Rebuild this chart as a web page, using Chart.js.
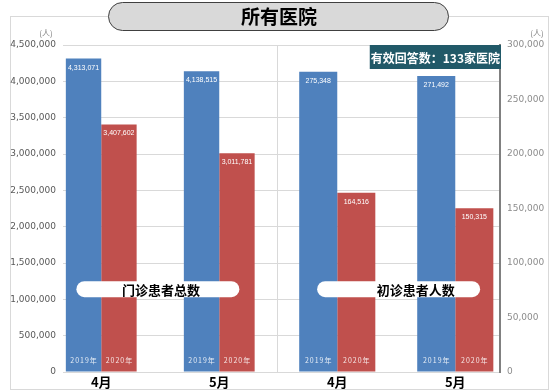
<!DOCTYPE html>
<html lang="zh-cn">
<head>
  <meta charset="UTF-8" />
  <title>所有医院</title>
  <script src="https://cdn.jsdelivr.net/npm/chart.js"></script>
  <style>
    body { margin: 0; background: #fff; }
    canvas { display: block; }
  </style>
</head>
<body>
  <canvas id="chart" width="558" height="392"></canvas>

  <script>
    // data
    const months = ['4月', '5月', '4月', '5月'];
    const seriesNames = ['2019年', '2020年'];
    const outpatient2019 = [4313071, 4138515, null, null];
    const outpatient2020 = [3407602, 3011781, null, null];
    const firstVisit2019 = [null, null, 275348, 271492];
    const firstVisit2020 = [null, null, 164516, 150315];
    const leftTicks = { max: 4500000, step: 500000 };
    const rightTicks = { max: 300000, step: 50000 };
    const title = '所有医院';
    const unitLabel = '(人)';
    const responseNote = '有效回答数：133家医院';
    const groupLabels = [
      { text: '门诊患者总数', x: 0.48, y: 1140000, axis: 'yL', shift: 3 },
      { text: '初诊患者人数', x: 2.52, y: 1140000, axis: 'yL', shift: 17 }
    ];

    const BLUE = '#4f81bd';
    const RED = '#c0504d';
    const NUM_FONT = '"DejaVu Sans", Verdana, sans-serif';
    const LABEL_FONT = '"Liberation Sans", Arial, sans-serif';
    const CJK_FONT = '"Noto Sans CJK SC", "Noto Sans", sans-serif';

    const roundRect = (ctx, x, y, w, h, r) => {
      ctx.beginPath();
      ctx.roundRect(x, y, w, h, r);
    };

    const decor = {
      id: 'decor',
      beforeDraw(chart) {
        const { ctx } = chart;
        ctx.save();
        ctx.strokeStyle = '#d9d9d9';
        ctx.lineWidth = 1;
        ctx.strokeRect(10.5, 16.5, 538, 373);
        ctx.restore();
      },
      afterDatasetsDraw(chart) {
        const { ctx, chartArea, scales } = chart;
        ctx.save();

        // divider between the two halves, midway between the bar groups
        const lastLeft = chart.getDatasetMeta(1).data[1];
        const firstRight = chart.getDatasetMeta(2).data[2];
        const midX = Math.round((lastLeft.x + lastLeft.width / 2 + firstRight.x - firstRight.width / 2) / 2) + 0.5;
        ctx.strokeStyle = '#d9d9d9';
        ctx.lineWidth = 1;
        ctx.beginPath();
        ctx.moveTo(midX, chartArea.top);
        ctx.lineTo(midX, chartArea.bottom);
        ctx.stroke();

        // value labels at the top and series names at the bottom of each bar
        chart.data.datasets.forEach((ds, di) => {
          chart.getDatasetMeta(di).data.forEach((bar, i) => {
            const v = ds.data[i];
            if (v == null) return;
            ctx.fillStyle = '#ffffff';
            ctx.textAlign = 'center';
            ctx.textBaseline = 'middle';
            ctx.font = '7px ' + LABEL_FONT;
            ctx.letterSpacing = '0px';
            ctx.fillText(v.toLocaleString('en-US'), bar.x, bar.y + 9);
            ctx.font = '7px ' + CJK_FONT;
            ctx.letterSpacing = '1px';
            ctx.fillStyle = 'rgba(255,255,255,0.85)';
            ctx.fillText(seriesNames[di % 2], bar.x + 0.5, chartArea.bottom - 12);
          });
        });
        ctx.letterSpacing = '0px';

        // group labels in white pills
        groupLabels.forEach(g => {
          const cx = scales.x.getPixelForValue(g.x);
          const cy = scales[g.axis].getPixelForValue(g.y);
          const w = 163, h = 16;
          ctx.fillStyle = '#ffffff';
          roundRect(ctx, cx - w / 2, cy - h / 2, w, h, h / 2);
          ctx.fill();
          ctx.fillStyle = '#000000';
          ctx.font = 'bold 13px ' + CJK_FONT;
          ctx.textAlign = 'center';
          ctx.textBaseline = 'middle';
          ctx.fillText(g.text, cx + g.shift, cy + 1);
        });

        // response count box at the top right of the plot
        ctx.font = 'bold 12px ' + CJK_FONT;
        const tw = ctx.measureText(responseNote).width;
        const bw = Math.max(tw + 2, 131);
        ctx.fillStyle = '#215968';
        ctx.fillRect(chartArea.right - bw + 1, chartArea.top, bw, 24);
        ctx.fillStyle = '#ffffff';
        ctx.textAlign = 'center';
        ctx.textBaseline = 'middle';
        ctx.fillText(responseNote, chartArea.right - bw / 2 + 1, chartArea.top + 13);

        // unit labels above both axes
        ctx.font = '8px ' + CJK_FONT;
        ctx.fillStyle = '#7f7f7f';
        ctx.fillText(unitLabel, 46, 33);
        ctx.fillText(unitLabel, 537, 33);

        // title pill
        ctx.fillStyle = '#d9d9d9';
        ctx.strokeStyle = '#404040';
        ctx.lineWidth = 1;
        roundRect(ctx, 108.5, 2.5, 340, 28, 14);
        ctx.fill();
        ctx.stroke();
        ctx.fillStyle = '#000000';
        ctx.font = 'bold 19px ' + CJK_FONT;
        ctx.fillText(title, 279, 17);

        ctx.restore();
      }
    };

    new Chart(document.getElementById('chart'), {
      type: 'bar',
      data: {
        labels: months,
        datasets: [
          { label: seriesNames[0], data: outpatient2019, backgroundColor: BLUE, yAxisID: 'yL', categoryPercentage: 0.60 },
          { label: seriesNames[1], data: outpatient2020, backgroundColor: RED, yAxisID: 'yL', categoryPercentage: 0.60 },
          { label: seriesNames[0], data: firstVisit2019, backgroundColor: BLUE, yAxisID: 'yR', categoryPercentage: 0.645 },
          { label: seriesNames[1], data: firstVisit2020, backgroundColor: RED, yAxisID: 'yR', categoryPercentage: 0.645 }
        ]
      },
      options: {
        responsive: false,
        animation: false,
        skipNull: true,
        barPercentage: 1,
        layout: { padding: { top: 45, left: 0, right: 0, bottom: 0 } },
        plugins: { legend: { display: false }, tooltip: { enabled: false } },
        scales: {
          x: {
            grid: { display: false, drawTicks: false },
            border: { display: false },
            ticks: { color: '#000', font: { family: CJK_FONT, size: 13, weight: 'bold' }, padding: 2, maxRotation: 0 },
            afterBuildTicks: s => { s._startValue = -0.324; s._valueRange = 3.703; },
            afterFit: s => { s.height = 20; }
          },
          yL: {
            position: 'left',
            min: 0,
            max: leftTicks.max,
            ticks: {
              stepSize: leftTicks.step,
              color: '#595959',
              font: { family: NUM_FONT, size: 9 },
              padding: 7,
              callback: v => v.toLocaleString('en-US')
            },
            grid: { color: '#d9d9d9', drawTicks: false },
            border: { display: false },
            afterFit: s => { s.width = 63; }
          },
          yR: {
            position: 'right',
            min: 0,
            max: rightTicks.max,
            ticks: {
              stepSize: rightTicks.step,
              color: '#8c8c8c',
              font: { family: NUM_FONT, size: 9 },
              padding: 7,
              callback: v => v.toLocaleString('en-US')
            },
            grid: { drawOnChartArea: false, drawTicks: false },
            border: { color: '#808080', width: 2 },
            afterFit: s => { s.width = 58; }
          }
        }
      },
      plugins: [decor]
    });
  </script>
</body>
</html>
